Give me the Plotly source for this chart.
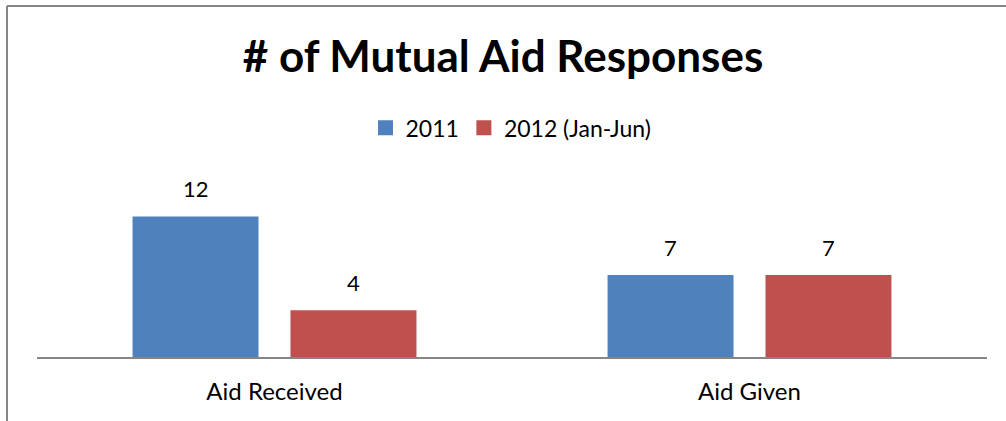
import plotly.graph_objects as go

categories = ["Aid Received", "Aid Given"]
series_names = ["2011", "2012 (Jan-Jun)"]
values_2011 = [12, 7]
values_2012 = [4, 7]
colors = ["#4F81BD", "#C0504D"]

FONT = "Lato"

W, H = 1006, 421
L, R = 37, 987
T, B = 192.5, 357
pw, ph = R - L, B - T

def px(x):
    return (x - L) / pw

def py(y):
    return (B - y) / ph

fig = go.Figure()
series = [values_2011, values_2012]
offsets = [-79, 79]
for name, vals, col, off in zip(series_names, series, colors, offsets):
    fig.add_trace(go.Bar(x=categories, y=vals, name=name, marker_color=col,
                         marker_line_width=0, hoverinfo="skip", showlegend=False))
    for c, v in zip(categories, vals):
        fig.add_annotation(x=c, y=v, xref="x", yref="y", text=str(v), showarrow=False,
                           xshift=off, yshift=28, yanchor="middle",
                           font=dict(size=22, family=FONT, color="#000000"))
# legend-only entries with square swatches
for name, col in zip(series_names, colors):
    fig.add_trace(go.Scatter(x=[None], y=[None], mode="markers", name=name,
                             marker=dict(symbol="square", size=15, color=col)))

fig.update_layout(
    width=W, height=H,
    margin=dict(l=L, r=W - R, t=T, b=H - B, autoexpand=False),
    paper_bgcolor="white", plot_bgcolor="white",
    barmode="group", bargap=0.335, bargroupgap=0.2025,
    title=dict(text="<b># of Mutual Aid Responses</b>", x=0.5, xanchor="center",
               y=1 - 57 / H, yanchor="middle",
               font=dict(size=44, family=FONT, color="#000000")),
    legend=dict(orientation="h", x=px(511), xanchor="center", y=py(127), yanchor="middle",
                font=dict(size=23, family=FONT, color="#000000"),
                itemwidth=30, tracegroupgap=0, itemsizing="trace"),
    font=dict(family=FONT),
    showlegend=True,
)
fig.update_xaxes(showline=True, linecolor="#868686", linewidth=2,
                 ticks="", tickfont=dict(size=24, family=FONT, color="#000000"),
                 ticklabelstandoff=12, showgrid=False, zeroline=False)
fig.update_yaxes(range=[0, 14], visible=False, showgrid=False, zeroline=False)

fig.add_shape(type="line", xref="paper", yref="paper", x0=px(7), x1=px(7), y0=py(5), y1=py(H + 5),
              line=dict(color="#868686", width=2))
fig.add_shape(type="line", xref="paper", yref="paper", x0=px(7), x1=px(W + 5), y0=py(5), y1=py(5),
              line=dict(color="#868686", width=2))

fig.write_html("out.html", config={"displayModeBar": False},
               post_script="document.body.style.margin='0';document.body.style.overflow='hidden';")
